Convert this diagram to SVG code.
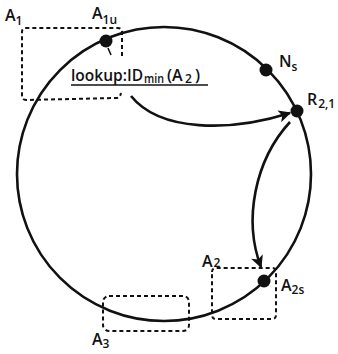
<svg xmlns="http://www.w3.org/2000/svg" width="338" height="354" viewBox="0 0 338 354">
<style>
.ring{fill:none;stroke:#111;stroke-width:2.6}
.dot{fill:#111}
.box{fill:none;stroke:#111;stroke-width:2;stroke-dasharray:4 3}
.edge{fill:none;stroke:#111;stroke-width:2.6}
.lbl{font-family:"Open Sans","DejaVu Sans",sans-serif;font-size:16px;font-weight:600;fill:#111}
.sub{font-size:12px}
</style>
<defs>
<marker id="ah" viewBox="0 0 10 10" refX="9" refY="5" markerWidth="6.5" markerHeight="4.8" markerUnits="strokeWidth" orient="auto">
<path d="M0,0 L10,5 L0,10 L2.5,5 Z" fill="#111"/>
</marker>
</defs>
<g id="ring"><circle class="ring" cx="164" cy="174" r="147"/></g>
<g id="A1">
<path class="box" d="M122,56 L122,32 Q122,28 118,28 L26,28 Q22,28 22,32 L22,96 Q22,100 26,100 L116,98 Q120,98 121,93"/>
<text class="lbl" x="5" y="21">A<tspan class="sub" dy="4">1</tspan></text>
</g>
<g id="A1u">
<circle class="dot" cx="106" cy="41" r="6.5"/>
<path d="M108,48 L111,55" stroke="#111" stroke-width="1.6"/>
<text class="lbl" x="92" y="19">A<tspan class="sub" dy="5">1u</tspan></text>
</g>
<g id="Ns">
<circle class="dot" cx="266" cy="70" r="6.5"/>
<text class="lbl" x="279" y="67">N<tspan class="sub" dy="4">s</tspan></text>
</g>
<g id="R21">
<circle class="dot" cx="297" cy="111" r="6.5"/>
<text class="lbl" x="307" y="105">R<tspan class="sub" dx="1" dy="3">2,1</tspan></text>
</g>
<g id="A2">
<path class="box" d="M212,272 Q212,268 216,268 L272,268 Q276,268 276,272 L276,315 Q276,319 272,319 L216,319 Q212,319 212,315 Z"/>
<text class="lbl" x="202" y="267">A<tspan class="sub" dx="1" dy="0">2</tspan></text>
</g>
<g id="A2s">
<circle class="dot" cx="264" cy="281" r="6.5"/>
<text class="lbl" x="281" y="291">A<tspan class="sub" dy="3">2s</tspan></text>
</g>
<g id="A3">
<rect class="box" x="103" y="296" width="86" height="35" rx="6"/>
<text class="lbl" x="92" y="345">A<tspan class="sub" dy="3">3</tspan></text>
</g>
<g id="lookup">
<text class="lbl" y="81"><tspan x="71" textLength="72" lengthAdjust="spacingAndGlyphs">lookup:ID</tspan><tspan class="sub" x="144" dy="2" textLength="20" lengthAdjust="spacingAndGlyphs">min</tspan><tspan x="167" dy="-2">(A</tspan><tspan class="sub" x="185" dy="2">2</tspan><tspan x="195" dy="-2">)</tspan></text>
<line x1="71" y1="85" x2="208" y2="85" stroke="#111" stroke-width="1.6"/>
</g>
<g id="connectors">
<path class="edge" d="M131,96 C160,132 230,132 290,113" marker-end="url(#ah)"/>
<path class="edge" d="M290,122 C255,160 243,220 261,267" marker-end="url(#ah)"/>
</g>
</svg>
